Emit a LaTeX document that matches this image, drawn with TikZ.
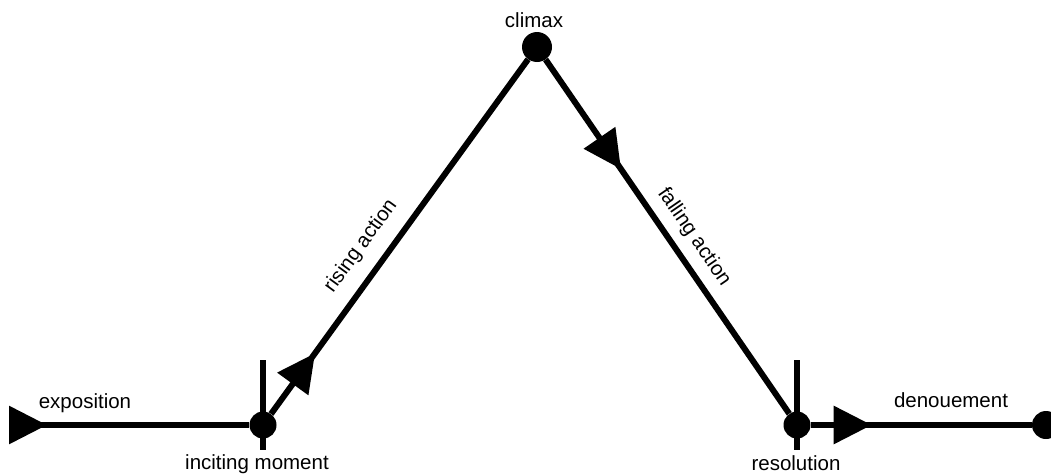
\documentclass[tikz,border=0pt]{standalone}
\usepackage{fontspec}
\setmainfont{Liberation Sans}
\usetikzlibrary{positioning,calc,arrows.meta,decorations.markings}
\tikzset{
    plotline/.style={
        x=1pt, y=-1pt,
        % Stile per i punti della trama (cerchio pieno)
        plotpoint/.style={circle, fill=black, inner sep=0pt,
                          minimum size=##1},
        plotpoint/.default=27pt,
        % Stile per i tratti della trama (con freccia a metà)
        phase/.style={line width=6pt, postaction={decorate},
                      decoration={markings, mark=at position ##1 with
                      {\arrow{Triangle[length=38pt,width=37pt]}}}},
        % Stile per le tacche verticali
        tick/.style={line width=6pt},
        % Stile per le etichette
        lbl/.style={font=\fontsize{20.5}{24}\selectfont, inner sep=0pt}
    }
}
\begin{document}
\begin{tikzpicture}[plotline]
    \useasboundingbox (0,0) rectangle (1051,474);
    % punti
    \coordinate (start) at (10,425);
    \node[plotpoint] (incite) at (263,425) {};
    \node[plotpoint=30pt] (climax) at (537,47) {};
    \node[plotpoint] (resolve) at (797,425) {};
    \node[plotpoint=28pt] (finish) at (1046,425) {};
    % tratti
    \draw[phase=37pt] (start) -- (incite);
    \draw[phase=75pt] (incite) -- (climax);
    \draw[phase=133pt] (climax) -- (resolve);
    \draw[phase=61pt] (resolve) -- (finish);
    % tacche
    \draw[tick] (incite.center) ++(0,-65) -- ++(0,90);
    \draw[tick] (resolve.center) ++(0,-65) -- ++(0,90);
    % etichette
    \node[lbl] (lexpo) at (85,403) {exposition};
    \node[lbl] (lincite) at (257,464) {inciting moment};
    \node[lbl] (lclimax) at (534,20) {climax};
    \node[lbl] (lresolve) at (796,463) {resolution};
    \node[lbl] (ldenoue) at (951,400) {denouement};
    \node[lbl, rotate=54] (lrising) at (361,246) {rising action};
    \node[lbl, rotate=-55.5] (lfalling) at (694,237) {falling action};
\end{tikzpicture}
\end{document}
